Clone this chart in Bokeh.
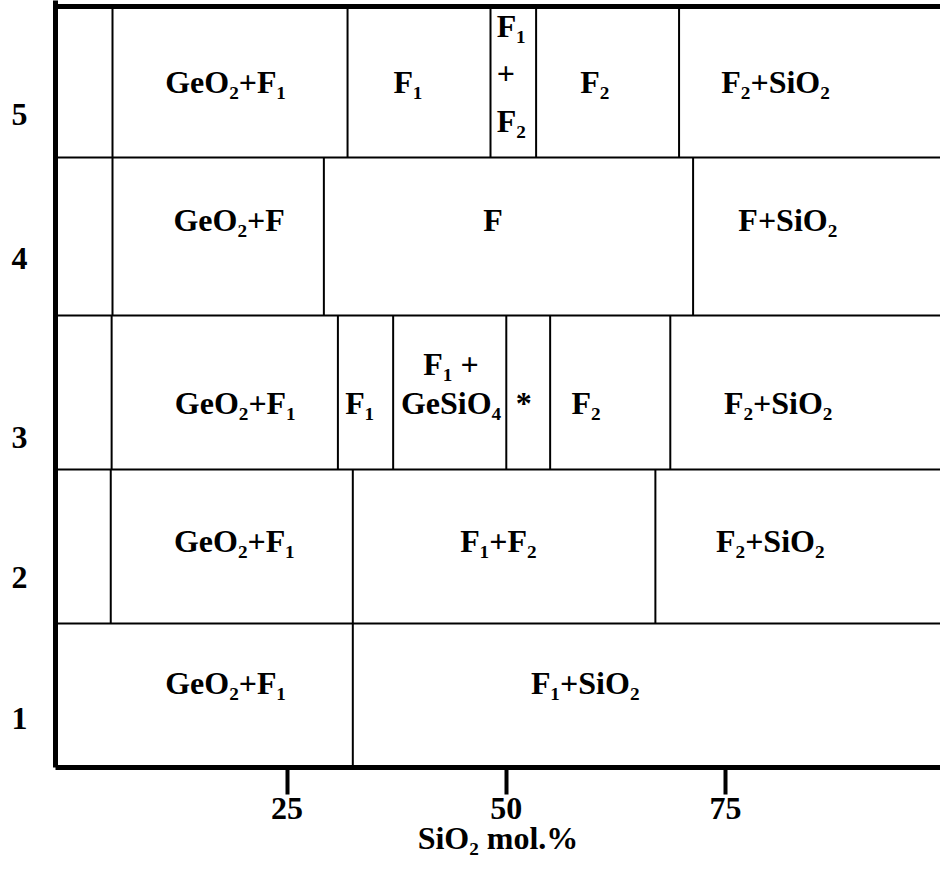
from bokeh.plotting import figure
from bokeh.models import FixedTicker, Range1d
from bokeh.core.properties import value
from bokeh.embed import file_html
from bokeh.resources import INLINE

# ---- data ----
rows = [1, 2, 3, 4, 5]
row_edges = [0.5, 1.446, 2.458, 3.470, 4.508, 5.5]   # y of row boundaries
x_ticks = [25, 50, 75]

# vertical phase boundaries (SiO2 mol.%) per row
row1_bounds = [32.5]
row2_bounds = [4.9, 32.5, 67.0]
row3_bounds = [5.0, 30.8, 37.1, 50.0, 55.0, 68.7]
row4_bounds = [5.1, 29.2, 71.3, 99.6]
row5_bounds = [5.1, 31.9, 48.2, 53.4, 69.7, 99.7]

# phase labels per row
row1_labels = ["GeO₂+F₁", "F₁+SiO₂"]
row1_label_x = [18.0, 59.0]
row2_labels = ["GeO₂+F₁", "F₁+F₂", "F₂+SiO₂"]
row2_label_x = [19.0, 49.1, 80.1]
row3_labels = ["GeO₂+F₁", "F₁", "*", "F₂", "F₂+SiO₂"]
row3_label_x = [19.1, 33.3, 52.0, 59.1, 81.0]
row3_stack_label = ["F₁ +\nGeSiO₄"]
row3_stack_x = [43.7]
row4_labels = ["GeO₂+F", "F", "F+SiO₂"]
row4_label_x = [18.4, 48.5, 82.1]
row5_labels = ["GeO₂+F₁", "F₁", "F₂", "F₂+SiO₂"]
row5_label_x = [18.0, 38.8, 60.1, 80.7]
row5_stack_label = ["F₁\n+\nF₂"]
row5_stack_x = [48.9]

# label heights inside each row
row_label_y = [1.052, 1.985, 2.898, 4.094, 5.007]
row3_stack_y = 3.023
row5_stack_y = 5.06

# y-axis label placement (lower part of each row)
ylabel_pos = [0.822, 1.748, 2.668, 3.844, 4.790]

FONT = "Liberation Serif"
FS = "32px"

p = figure(width=940, height=858,
           x_range=Range1d(-1.40, 99.51), y_range=Range1d(0.5, 5.5394),
           output_backend="svg", toolbar_location=None,
           min_border_left=55, min_border_right=0, min_border_top=0,
           min_border_bottom=91)
p.outline_line_color = None
p.xgrid.visible = False
p.ygrid.visible = False
p.background_fill_color = "white"

# vertical boundaries
all_bounds = [row1_bounds, row2_bounds, row3_bounds, row4_bounds, row5_bounds]
xs, y0s, y1s = [], [], []
for i, b in enumerate(all_bounds):
    for xv in b:
        xs.append(xv)
        y0s.append(row_edges[i])
        y1s.append(row_edges[i + 1])
p.segment(x0=xs, y0=y0s, x1=xs, y1=y1s, line_color="black", line_width=2)

# horizontal row boundaries and top border
p.hspan(y=row_edges[1:-1], line_color="black", line_width=2)
p.hspan(y=[row_edges[-1]], line_color="black", line_width=5)

txt = dict(text_font=value(FONT), text_font_style="bold", text_font_size=FS,
           text_color="black", text_baseline="middle")

all_labels = [row1_labels, row2_labels, row3_labels, row4_labels, row5_labels]
all_lx = [row1_label_x, row2_label_x, row3_label_x, row4_label_x, row5_label_x]
lx, ly, lt = [], [], []
for i in range(5):
    for t, xv in zip(all_labels[i], all_lx[i]):
        lx.append(xv)
        ly.append(row_label_y[i])
        lt.append(t)
p.text(x=lx, y=ly, text=lt, text_align="center", **txt)
p.text(x=row3_stack_x, y=[row3_stack_y], text=row3_stack_label,
       text_align="center", text_line_height=1.1, **txt)
p.text(x=row5_stack_x, y=[row5_stack_y], text=row5_stack_label,
       text_align="left", text_line_height=1.33, **txt)

# x axis
xa = p.xaxis[0]
xa.ticker = FixedTicker(ticks=x_ticks)
xa.axis_line_width = 5
xa.axis_line_color = "black"
xa.major_tick_line_width = 4
xa.major_tick_line_color = "black"
xa.major_tick_out = 27
xa.major_tick_in = 0
xa.minor_tick_out = 0
xa.minor_tick_in = 0
xa.major_label_text_font = FONT
xa.major_label_text_font_style = "bold"
xa.major_label_text_font_size = FS
xa.major_label_text_color = "black"
xa.major_label_standoff = 3
xa.axis_label = "SiO₂ mol.%"
xa.axis_label_text_font = FONT
xa.axis_label_text_font_style = "bold"
xa.axis_label_text_font_size = FS
xa.axis_label_text_color = "black"
xa.axis_label_standoff = -2

# y axis
ya = p.yaxis[0]
ya.ticker = FixedTicker(ticks=ylabel_pos)
ya.major_label_overrides = {pos: str(r) for pos, r in zip(ylabel_pos, rows)}
ya.axis_line_width = 5
ya.axis_line_color = "black"
ya.major_tick_out = 0
ya.major_tick_in = 0
ya.minor_tick_out = 0
ya.minor_tick_in = 0
ya.major_label_text_font = FONT
ya.major_label_text_font_style = "bold"
ya.major_label_text_font_size = FS
ya.major_label_text_color = "black"
ya.major_label_standoff = 28

open("out.html", "w").write(file_html(p, INLINE))
